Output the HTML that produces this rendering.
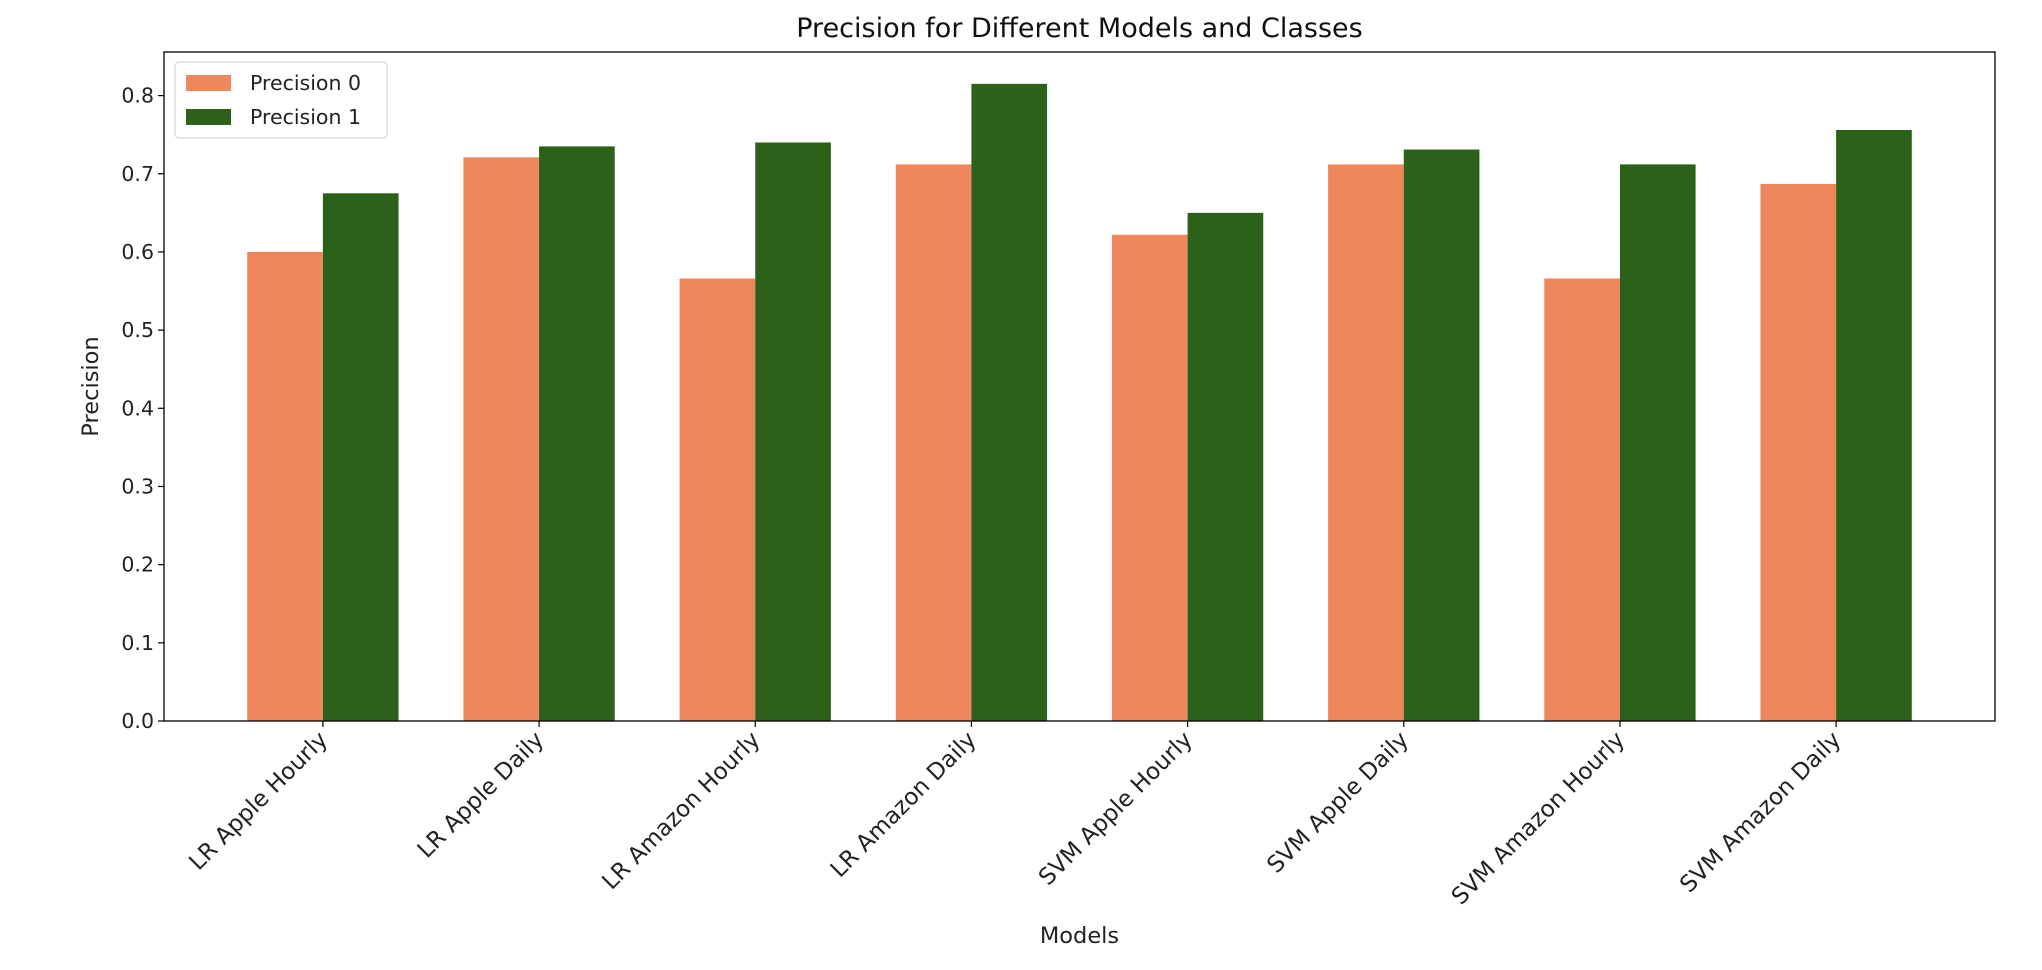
<!DOCTYPE html>
<html><head><meta charset="utf-8"><style>
html,body{margin:0;padding:0;background:#fff;}
svg{display:block;font-family:"DejaVu Sans","Liberation Sans",sans-serif;}
</style></head><body>
<svg id="chart" width="2042" height="970" viewBox="0 0 2042 970"></svg>
<script>
const categories = ["LR Apple Hourly","LR Apple Daily","LR Amazon Hourly","LR Amazon Daily","SVM Apple Hourly","SVM Apple Daily","SVM Amazon Hourly","SVM Amazon Daily"];
const precision0 = [0.600,0.721,0.566,0.712,0.622,0.712,0.566,0.687];
const precision1 = [0.675,0.735,0.740,0.815,0.650,0.731,0.712,0.756];
const yTicks = [0.0,0.1,0.2,0.3,0.4,0.5,0.6,0.7,0.8];
const seriesNames = ["Precision 0","Precision 1"];

const NS="http://www.w3.org/2000/svg";
const svg=document.getElementById('chart');
const L=164,R=1995,T=52,B=721;
const n=categories.length, bw=0.35;
const xmin=-bw-0.05*(n-1+2*bw), xmax=n-1+bw+0.05*(n-1+2*bw);
const ymax=Math.max(...precision0,...precision1)*1.05;
const xs=v=>L+(v-xmin)/(xmax-xmin)*(R-L);
const ys=v=>B-v/ymax*(B-T);
function el(tag,attrs,text){const e=document.createElementNS(NS,tag);for(const k in attrs)e.setAttribute(k,attrs[k]);if(text!==undefined)e.textContent=text;svg.appendChild(e);return e;}
const colors=["#ef875d","#2c611a"];
[precision0,precision1].forEach((arr,s)=>{
  arr.forEach((v,i)=>{
    const x0=xs(i-bw+s*bw), x1=xs(i+s*bw);
    const r=el('rect',{x:x0,y:ys(v),width:x1-x0,height:ys(0)-ys(v),fill:colors[s]});
    
    
  });
});
const frame=el('rect',{x:L,y:T,width:R-L,height:B-T,fill:'none',stroke:'#000','stroke-width':1.3});


yTicks.forEach(v=>{
  const y=ys(v);
  const t=el('line',{x1:L-6,x2:L,y1:y,y2:y,stroke:'#000','stroke-width':1.2});
  
  
  const lb=el('text',{x:L-10,y:y+7,'text-anchor':'end','font-size':20.5,fill:'#222'},v.toFixed(1));
  
  
});
categories.forEach((c,i)=>{
  const x=xs(i);
  const t=el('line',{x1:x,x2:x,y1:B,y2:B+6,stroke:'#000','stroke-width':1.2});
  
  
  const lb=el('text',{x:x+6,y:B+20,'text-anchor':'end','font-size':23,fill:'#222',transform:`rotate(-45 ${x+6} ${B+20})`},c);
  
  
});
const title=el('text',{x:(L+R)/2,y:37,'text-anchor':'middle','font-size':27,fill:'#111'},'Precision for Different Models and Classes');


const xt=el('text',{x:(L+R)/2,y:943,'text-anchor':'middle','font-size':22.5,fill:'#222'},'Models');


const yt=el('text',{x:98,y:(T+B)/2,'text-anchor':'middle','font-size':22.5,fill:'#222',transform:`rotate(-90 98 ${(T+B)/2})`},'Precision');


const lg=el('rect',{x:175,y:62,width:212,height:76,rx:4,fill:'#fff','fill-opacity':0.85,stroke:'#ccc','stroke-width':1});


seriesNames.forEach((nm,s)=>{
  const y=83+s*34;
  const p=el('rect',{x:186,y:y-8,width:45,height:16,fill:colors[s]});
  
  
  const t=el('text',{x:250,y:y+7,'font-size':20.5,fill:'#222'},nm);
  
  
});
</script>
</body></html>
